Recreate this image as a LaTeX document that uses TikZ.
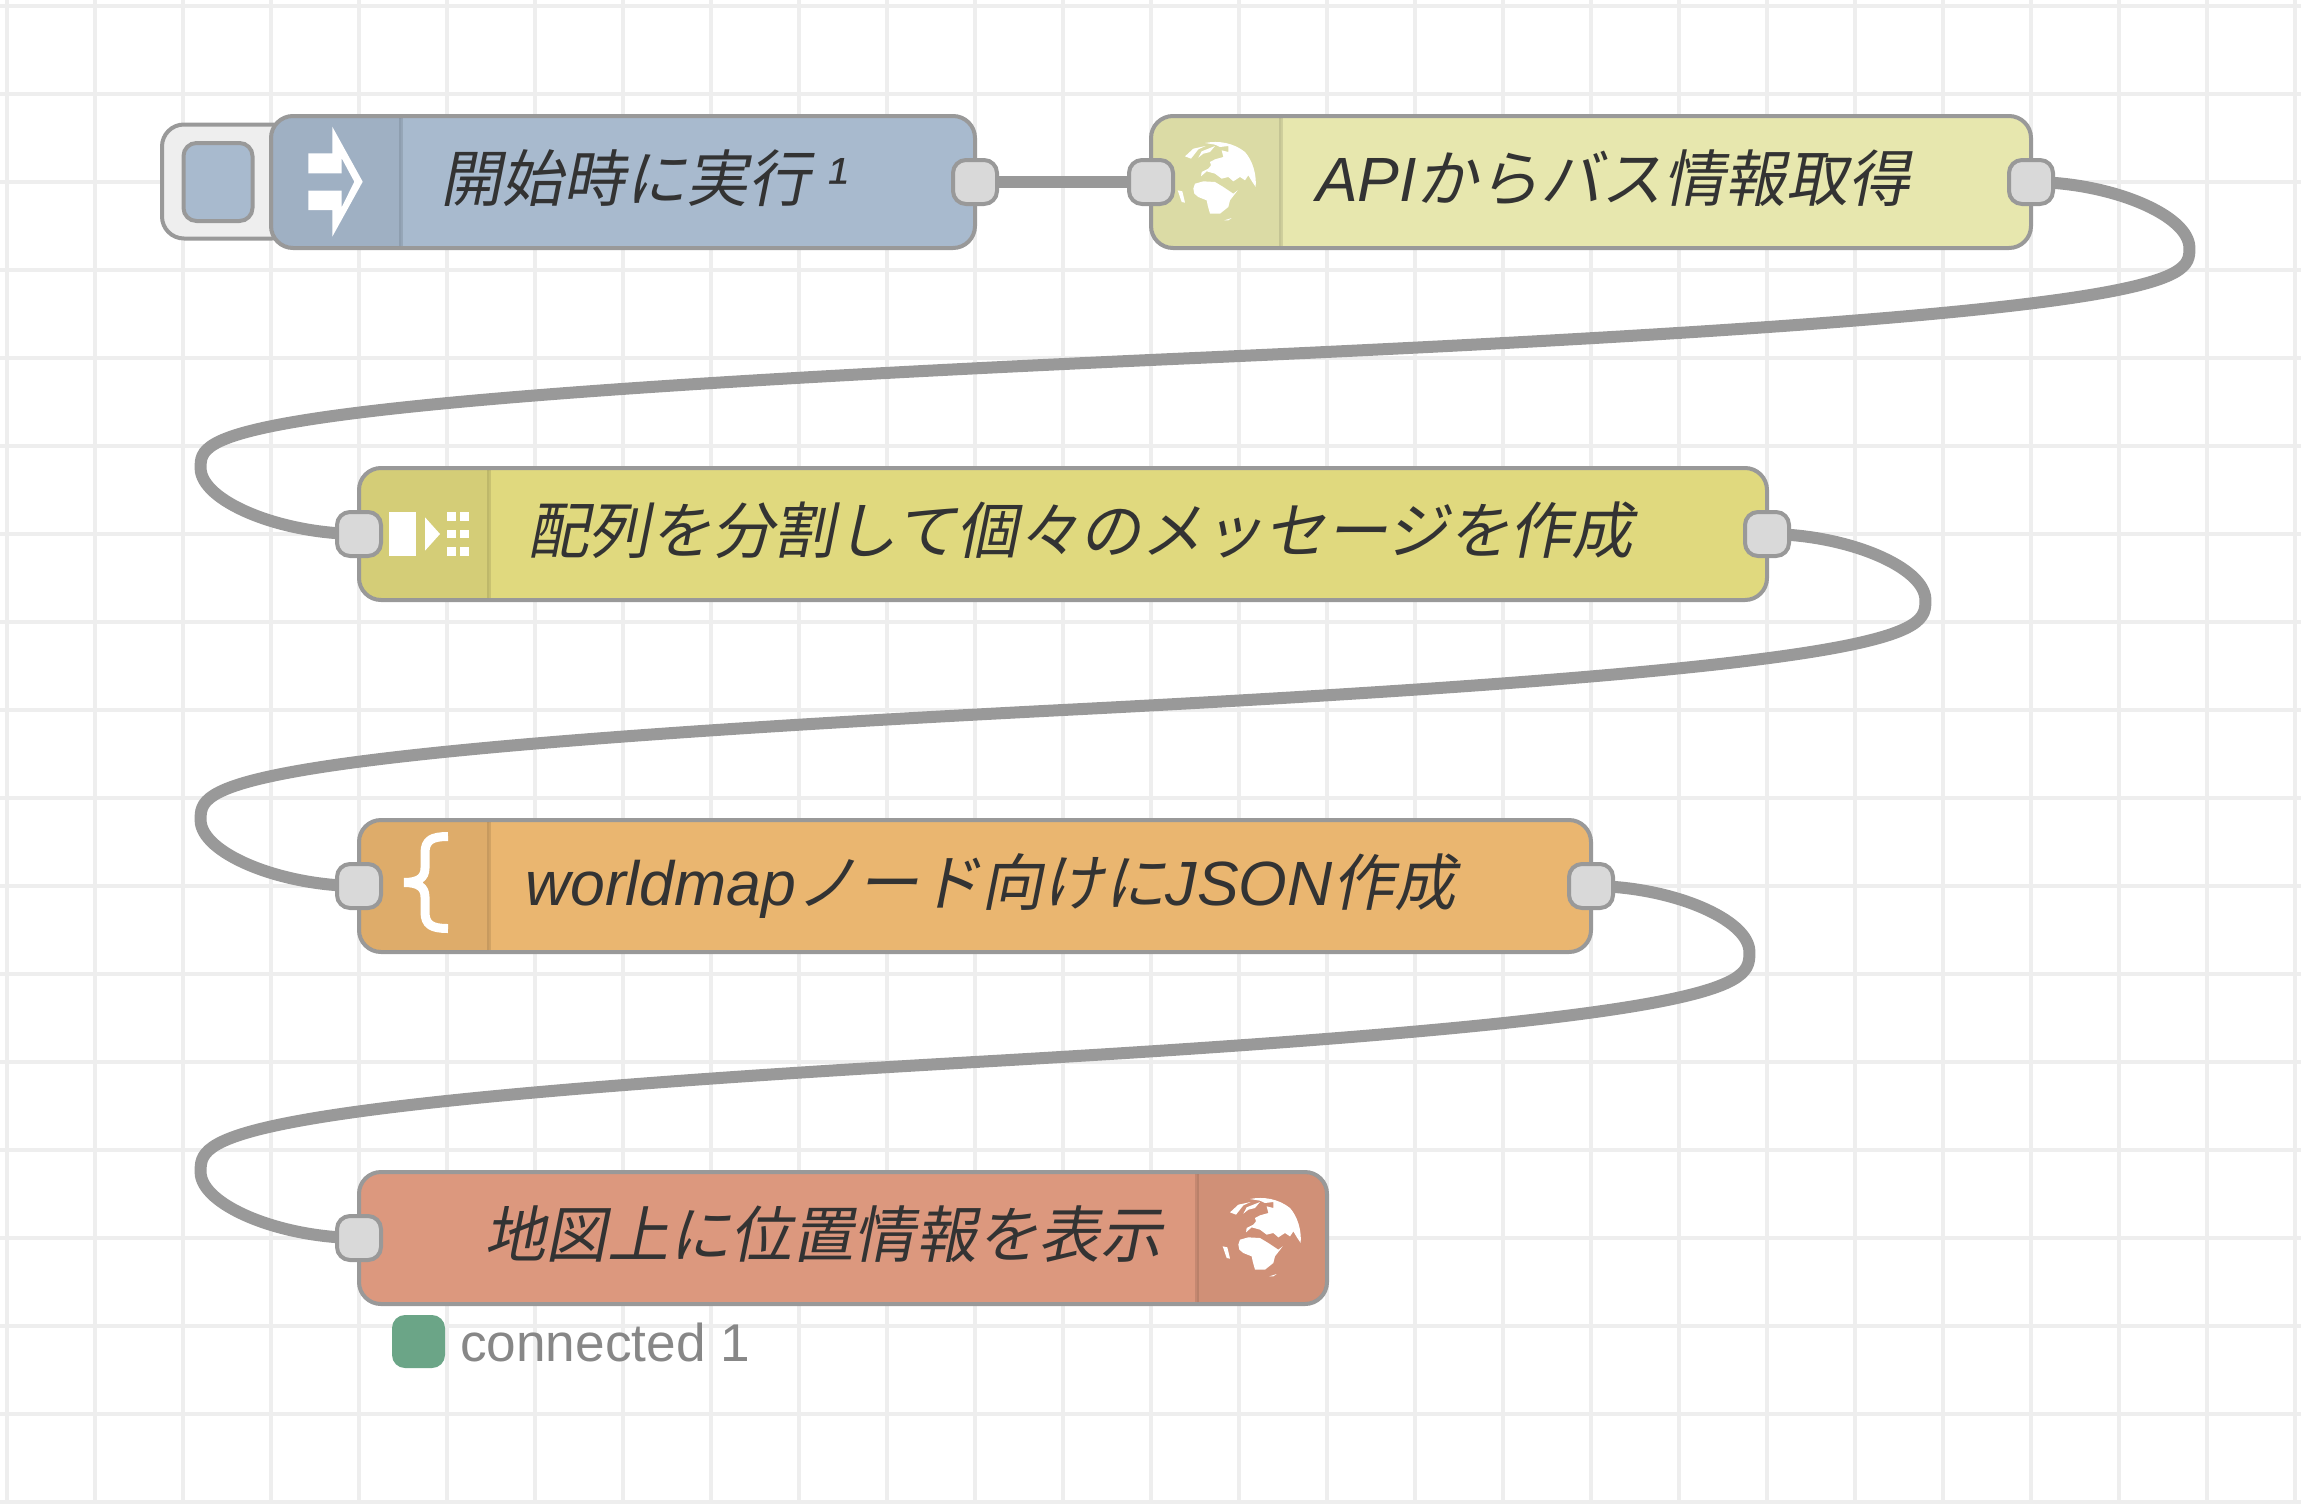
\documentclass[tikz,border=0pt]{standalone}
\usepackage{fontspec}
\usepackage{xcolor}
\usetikzlibrary{calc, backgrounds}

\newfontfamily\jpfont[FakeSlant=0.2]{Noto Sans CJK JP}
\newfontfamily\enfont[Scale=1.015]{Liberation Sans}
\newcommand{\jp}[1]{{\jpfont #1}}
\newcommand{\en}[1]{{\enfont\itshape #1}}

\definecolor{gridcol}{HTML}{EEEEEE}
\definecolor{linecol}{HTML}{999999}
\definecolor{portcol}{HTML}{D9D9D9}
\definecolor{injectcol}{HTML}{A8BACE}
\definecolor{requestcol}{HTML}{E7E7AE}
\definecolor{splitcol}{HTML}{E0D97E}
\definecolor{templatecol}{HTML}{EAB670}
\definecolor{mapcol}{HTML}{DC987E}
\definecolor{okcol}{HTML}{6BA587}
\definecolor{labelcol}{HTML}{333333}

\tikzset{
    flownode/.style={draw=linecol, line width=4pt, rounded corners=22pt, outer sep=0pt,
        minimum height=132pt, inner sep=0pt},
    port/.style={draw=linecol, line width=4pt, fill=portcol, rounded corners=13pt, outer sep=0pt,
        minimum width=44pt, minimum height=44pt, inner sep=0pt},
    wire/.style={draw=linecol, line width=12pt},
    headfill/.style={fill=black, fill opacity=0.05},
    headsep/.style={draw=black, draw opacity=0.1, line width=4pt},
    label/.style={anchor=base west, inner sep=0pt, text=labelcol, font=\fontsize{61.6}{70}\selectfont},
    worldglobe/.pic={
        \fill[white] (60,73) -- (85,50) -- (122,42) -- (100,52) -- (78,80) -- cycle;
        \fill[white] (100,77) -- (110,58) -- (150,42) -- (135,60) -- (115,65) -- cycle;
        \fill[white] (120,33) .. controls (160,25) and (205,32) .. (240,60)
            .. controls (262,85) and (275,125) .. (272,165) -- (262,150) -- (250,130)
            -- (240,145) -- (225,135) -- (205,148) -- (190,135) -- (170,140) -- (150,125)
            -- (125,118) -- (108,133) -- (110,120) -- (130,110) -- (138,100) -- (135,90)
            -- (150,82) -- (175,75) -- (170,55) -- (190,60) -- (190,42) -- (165,45) -- (150,38) -- cycle;
        \fill[white] (85,170) -- (90,155) -- (115,148) -- (150,150) -- (175,165) -- (205,185)
            -- (218,175) -- (195,205) -- (190,225) -- (165,245) -- (135,245) -- (128,220)
            -- (125,205) -- (100,195) -- (88,185) -- cycle;
        \fill[white] (38,175) -- (52,178) -- (60,212) -- (50,210) -- cycle;
        \fill[white] (178,265) -- (200,258) -- (190,265) -- cycle;
    }
}

% wire that leaves on the right and comes back round to the left
\newcommand{\flowwire}[2]{
    \draw[wire] (#1.center)
        .. controls ($(#1.center)+(79.2,0)$) and ($(#1.center)+(158.4,33)$) .. ($(#1.center)+(158.4,66)$)
        .. controls ($(#1.center)+(158.4,99)$) and ($(#1.center)+(158.4,132)$) .. ($(#1.center)!0.5!(#2.center)$)
        .. controls ($(#2.center)+(-158.4,-132)$) and ($(#2.center)+(-158.4,-99)$) .. ($(#2.center)+(-158.4,-66)$)
        .. controls ($(#2.center)+(-158.4,-33)$) and ($(#2.center)+(-79.2,0)$) .. (#2.center);
}
% tinted icon area on the left of a node: left edge, right edge, middle height
\newcommand{\headleft}[3]{
    \begin{scope}
        \clip (#1,{#3-70}) rectangle (#2,{#3+70});
        \fill[headfill, rounded corners=20pt] ({#1+2},{#3-64}) rectangle ({#2+100},{#3+64});
    \end{scope}
    \draw[headsep] (#2,{#3-64}) -- (#2,{#3+64});
}

\begin{document}
\begin{tikzpicture}[x=1pt, y=-1pt]
    \useasboundingbox (0,0) rectangle (2301,1504);

    % Inject button
    \node[draw=linecol, line width=4pt, fill=gridcol, rounded corners=22pt, minimum width=132pt, minimum height=114pt, inner sep=0pt] (button) at (228,181.5) {};
    \node[draw=linecol, line width=4pt, fill=injectcol, rounded corners=13pt, minimum width=69pt, minimum height=78pt, inner sep=0pt] (buttonface) at (218,182) {};

    % Nodes
    \node[flownode, fill=injectcol, minimum width=704pt] (inject) at (623,182) {};
    \node[flownode, fill=requestcol, minimum width=880pt] (request) at (1591,182) {};
    \node[flownode, fill=splitcol, minimum width=1408pt] (split) at (1063,534) {};
    \node[flownode, fill=templatecol, minimum width=1232pt] (template) at (975,886) {};
    \node[flownode, fill=mapcol, minimum width=968pt] (worldmap) at (843,1238) {};

    % Icon areas
    \headleft{271}{401}{182}
    \headleft{1151}{1281}{182}
    \headleft{359}{489}{534}
    \headleft{359}{489}{886}
    \begin{scope}
        \clip (1197,1168) rectangle (1325,1308);
        \fill[headfill, rounded corners=20pt] (1097,1174) rectangle (1325,1302);
    \end{scope}
    \draw[headsep] (1197,1174) -- (1197,1302);

    % Icons
    \fill[white] (332.3,126.7) -- (362.7,181.7) -- (332.3,236.7) -- (332.3,210) -- (308.3,210) -- (308.3,190.7)
        -- (341.7,190.7) -- (341.7,207.3) -- (354.3,181.7) -- (341.7,158.3) -- (341.7,173.3) -- (308.3,173.3)
        -- (308.3,153.3) -- (332.3,153.3) -- cycle;
    \pic[scale=1/3] at (1165,132) {worldglobe};
    \pic[scale=1/3] at (1210,1188) {worldglobe};
    \fill[white] (389.3,512) rectangle (416,555.7);
    \fill[white] (425,517.3) -- (440,534) -- (425,550.7) -- cycle;
    \foreach \dx in {447.3,460.3} {
        \foreach \dy in {512,529.7,547.3} {
            \fill[white] (\dx,\dy) rectangle ++(8.7,8.7);
        }
    }
    \draw[white, line width=9pt] (448,836.5) .. controls (432,836.5) and (425,840) .. (425,853)
        -- (425,868) .. controls (425,878) and (418,882.5) .. (404,882.5)
        .. controls (418,882.5) and (425,887) .. (425,897) -- (425,912)
        .. controls (425,925) and (432,928.5) .. (448,928.5);

    % Labels
    \node[label] (injectlabel) at (440,201) {\jp{開始時に実行}\en{ ¹}};
    \node[label] (requestlabel) at (1316,201) {\en{API}\jp{からバス情報取得}};
    \node[label] (splitlabel) at (527,553) {\jp{配列を分割して個々のメッセージを作成}};
    \node[label] (templatelabel) at (525,905) {\en{worldmap}\jp{ノード向けに}\en{JSON}\jp{作成}};
    \node[label] (worldmaplabel) at (484,1257) {\jp{地図上に位置情報を表示}};

    % Ports
    \node[port] (injectout) at (975,182) {};
    \node[port] (requestin) at (1151,182) {};
    \node[port] (requestout) at (2031,182) {};
    \node[port] (splitin) at (359,534) {};
    \node[port] (splitout) at (1767,534) {};
    \node[port] (templatein) at (359,886) {};
    \node[port] (templateout) at (1591,886) {};
    \node[port] (worldmapin) at (359,1238) {};

    % Grid and paths
    \begin{scope}[on background layer]
        \fill[white] (0,0) rectangle (2301,1504);
        \foreach \gx in {0,...,26} {
            \draw[gridcol, line width=3.3pt] ({7+88*\gx},0) -- ({7+88*\gx},1504);
        }
        \foreach \gy in {0,...,17} {
            \draw[gridcol, line width=3.3pt] (0,{6+88*\gy}) -- (2301,{6+88*\gy});
        }
        \draw[wire] (injectout.center) -- (requestin.center);
        \flowwire{requestout}{splitin}
        \flowwire{splitout}{templatein}
        \flowwire{templateout}{worldmapin}
    \end{scope}

    % Status
    \node[fill=okcol, rounded corners=13pt, minimum width=53pt, minimum height=53pt, inner sep=0pt] (statusdot) at (418.5,1341.5) {};
    \node[anchor=base west, inner sep=0pt, text=black!47, font=\enfont\fontsize{52.4}{60}\selectfont] (statuslabel) at (460,1361) {connected 1};
\end{tikzpicture}
\end{document}
